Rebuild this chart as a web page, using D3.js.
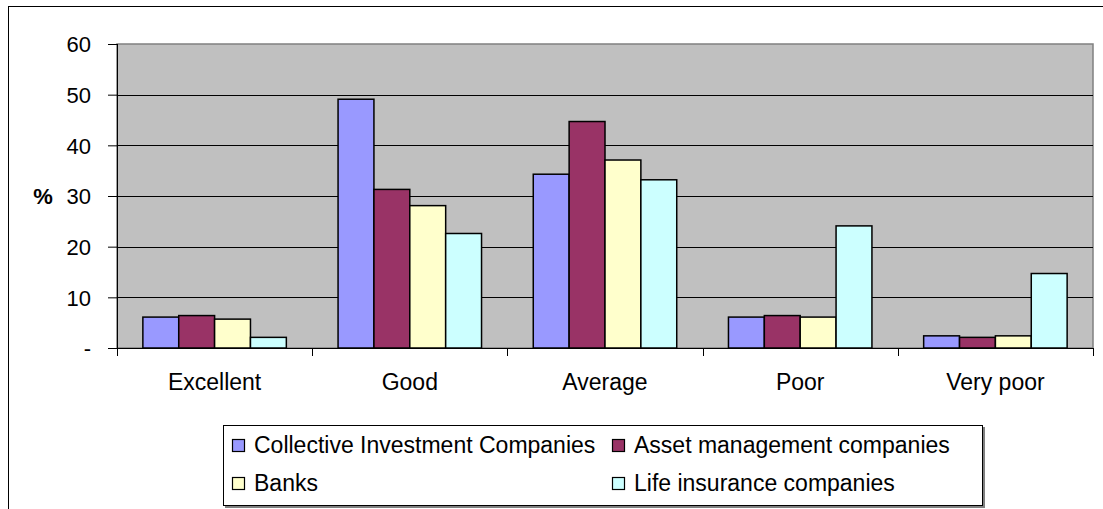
<!DOCTYPE html>
<html lang="en">
<head>
  <meta charset="UTF-8">
  <title>Ratings chart</title>
  <script src="https://d3js.org/d3.v7.min.js"></script>
  <style>
    body { margin: 0; background: #fff; }
    svg text { font-family: "Liberation Sans", Arial, sans-serif; fill: #000; }
  </style>
</head>
<body>
  <svg id="chart" width="1103" height="509"></svg>
  <script>
    // dados
    const categorias = ['Excellent', 'Good', 'Average', 'Poor', 'Very poor'];
    const series = ['Collective Investment Companies', 'Asset management companies', 'Banks', 'Life insurance companies'];
    const cores = ['#9999FF', '#993366', '#FFFFCC', '#CCFFFF'];
    const valoresCIC = [6.1, 49.1, 34.3, 6.1, 2.4];
    const valoresAMC = [6.4, 31.3, 44.7, 6.4, 2.1];
    const valoresBancos = [5.7, 28.1, 37.1, 6.1, 2.4];
    const valoresSeguros = [2.1, 22.6, 33.2, 24.1, 14.7];
    const ticksY = [0, 10, 20, 30, 40, 50, 60];

    const valores = [valoresCIC, valoresAMC, valoresBancos, valoresSeguros];

    const svg = d3.select('#chart');
    const esq = 117, dir = 1093, topo = 44, base = 348;

    // borda externa do grafico
    svg.append('rect')
      .attr('x', 8.5).attr('y', 6.5)
      .attr('width', 1110).attr('height', 520)
      .attr('fill', '#fff').attr('stroke', '#000').attr('stroke-width', 1);

    const x0 = d3.scaleBand().domain(categorias).range([esq, dir]).padding(0);
    const bw = x0.bandwidth();
    const gw = bw * 0.735;
    const x1 = d3.scaleBand().domain(series).range([(bw - gw) / 2, (bw + gw) / 2]);
    const y = d3.scaleLinear().domain([0, 60]).range([base, topo]);

    // area do grafico
    svg.append('rect')
      .attr('x', esq).attr('y', topo)
      .attr('width', dir - esq).attr('height', base - topo)
      .attr('fill', '#C0C0C0').attr('stroke', '#808080').attr('stroke-width', 1.5);

    // linhas de grade
    svg.append('g').selectAll('line')
      .data(ticksY.filter(d => d > 0 && d < 60))
      .enter().append('line')
      .attr('x1', esq).attr('x2', dir)
      .attr('y1', d => Math.round(y(d)) + 0.5)
      .attr('y2', d => Math.round(y(d)) + 0.5)
      .attr('stroke', '#000').attr('stroke-width', 1);

    // barras
    const grupos = svg.append('g').selectAll('g')
      .data(categorias)
      .enter().append('g')
      .attr('transform', d => `translate(${x0(d)},0)`);

    grupos.selectAll('rect')
      .data((c, i) => series.map((s, j) => ({ serie: s, valor: valores[j][i], cor: cores[j] })))
      .enter().append('rect')
      .attr('x', d => x1(d.serie))
      .attr('y', d => y(d.valor))
      .attr('width', x1.bandwidth())
      .attr('height', d => base - y(d.valor))
      .attr('fill', d => d.cor)
      .attr('stroke', '#000')
      .attr('stroke-width', 1.5);

    // eixo Y
    const eixoY = svg.append('g')
      .attr('transform', `translate(${esq},0)`)
      .call(d3.axisLeft(y).tickValues(ticksY).tickSize(9).tickPadding(17)
        .tickFormat(d => d === 0 ? '-' : d));
    eixoY.select('.domain').attr('stroke', '#000').attr('d', `M0.5,${topo}V${base}`);
    eixoY.selectAll('.tick line').attr('stroke', '#000');
    eixoY.selectAll('text').style('font-size', '22px').attr('dy', '0.35em');

    // eixo X
    const eixoX = svg.append('g')
      .attr('transform', `translate(0,${base})`);
    eixoX.append('line')
      .attr('x1', esq).attr('x2', dir).attr('y1', 0.5).attr('y2', 0.5)
      .attr('stroke', '#000');
    eixoX.selectAll('.tk')
      .data(d3.range(categorias.length + 1))
      .enter().append('line')
      .attr('x1', i => Math.round(esq + i * bw) + 0.5)
      .attr('x2', i => Math.round(esq + i * bw) + 0.5)
      .attr('y1', 0).attr('y2', 8)
      .attr('stroke', '#000');
    eixoX.selectAll('text')
      .data(categorias)
      .enter().append('text')
      .attr('x', d => x0(d) + bw / 2)
      .attr('y', 42)
      .attr('text-anchor', 'middle')
      .style('font-size', '23px')
      .text(d => d);

    // titulo do eixo
    svg.append('text')
      .attr('x', 43).attr('y', 196).attr('dy', '0.35em')
      .attr('text-anchor', 'middle')
      .style('font-size', '22px').style('font-weight', 'bold')
      .text('%');

    // legenda
    const leg = svg.append('g');
    leg.append('rect')
      .attr('x', 225).attr('y', 427).attr('width', 760).attr('height', 81)
      .attr('fill', '#808080');
    leg.append('rect')
      .attr('x', 223.5).attr('y', 425.5).attr('width', 759).attr('height', 80)
      .attr('fill', '#fff').attr('stroke', '#000');

    const posLeg = [[232, 445], [612, 445], [232, 483], [612, 483]];
    const itens = leg.selectAll('g.item')
      .data(series)
      .enter().append('g')
      .attr('class', 'item')
      .attr('transform', (d, i) => `translate(${posLeg[i][0]},${posLeg[i][1]})`);
    itens.append('rect')
      .attr('x', 0.5).attr('y', -5.5).attr('width', 12).attr('height', 12)
      .attr('fill', (d, i) => cores[i]).attr('stroke', '#000').attr('stroke-width', 1.2);
    itens.append('text')
      .attr('x', 22).attr('y', 0).attr('dy', '0.35em')
      .style('font-size', '23px')
      .text(d => d);
  </script>
</body>
</html>
